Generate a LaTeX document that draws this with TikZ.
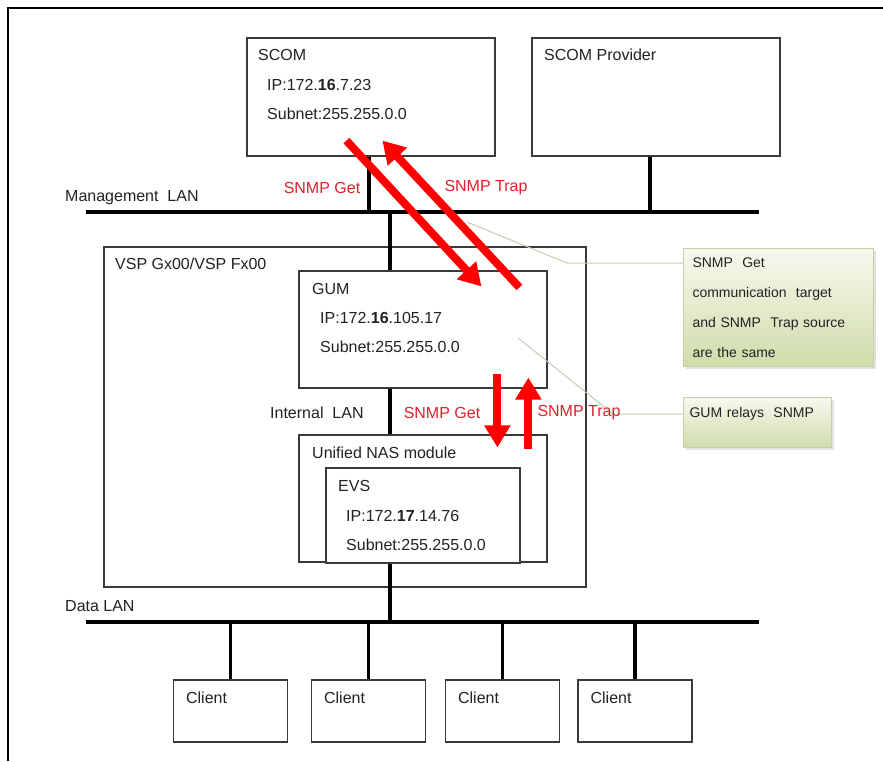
\documentclass[tikz,border=0pt]{standalone}
\usepackage{fontspec}
\setmainfont{Liberation Sans}
\usetikzlibrary{arrows.meta,calc,positioning,shadows}
\definecolor{snmpRed}{HTML}{FF0000}
\definecolor{snmpText}{HTML}{E0202C}
\definecolor{netInk}{HTML}{222222}
\definecolor{netBox}{HTML}{3A3A3A}
\definecolor{noteTop}{HTML}{F7F9EF}
\definecolor{noteBottom}{HTML}{D0DCAA}
\definecolor{noteEdge}{HTML}{C6D0A8}
\definecolor{notePtr}{HTML}{C8CCB2}

\begin{document}
\begin{tikzpicture}[x=1pt,y=-1pt,>=Latex,line cap=butt,line join=miter]
\path[fill=white] (0,0) rectangle (883,761); \useasboundingbox (0,0) rectangle (883,761);
\tikzset{box/.style={draw=netBox,fill=white,line width=1.2pt,inner sep=0pt},lan/.style={draw=black,line width=4pt},link/.style={draw=black,line width=3.5pt},lbl/.style={anchor=west,inner sep=0pt,text=netInk,font=\fontsize{16}{19}\selectfont},redlbl/.style={inner sep=0pt,text=snmpText,font=\fontsize{16}{19}\selectfont},flow/.style={draw=snmpRed,line width=8pt,-{Triangle[length=22pt,width=25pt]}},note/.style={draw=noteEdge,line width=1pt,top color=noteTop,bottom color=noteBottom,drop shadow={shadow xshift=2.5pt,shadow yshift=-2.5pt,fill=black!22},anchor=north west,inner sep=0pt,align=left,text=netInk,font=\fontsize{14}{29}\selectfont},pointer/.style={draw=notePtr,line width=1pt}}
\draw[black,line width=1.5pt] (8,761) -- (8,8) -- (883,8);
\node[box,minimum width=248,minimum height=118] (scom) at (371,97) {};
\node[box,minimum width=248,minimum height=118] (prov) at (656,97) {};
\node[box,minimum width=482,minimum height=340] (vsp) at (345,417) {};
\node[box,minimum width=248,minimum height=117] (gum) at (423,329.5) {};
\node[box,minimum width=248,minimum height=127] (nas) at (423,498.5) {};
\node[box,minimum width=194,minimum height=95] (evs) at (423,515.5) {};
\coordinate (mgmtL) at (86,212); \coordinate (mgmtR) at (759,212); \coordinate (dataL) at (86,622); \coordinate (dataR) at (759,622); \coordinate (trunk) at (390,0);
\draw[lan] (mgmtL) -- (mgmtR); \draw[lan] (dataL) -- (dataR);
\draw[link] ([xshift=-2pt]scom.south) -- ([xshift=-2pt]scom.south |- mgmtL); \draw[link] ([xshift=-6pt]prov.south) -- ([xshift=-6pt]prov.south |- mgmtL);
\draw[link] (trunk |- mgmtL) -- (trunk |- vsp.north); \draw[link] (trunk |- vsp.north) -- (trunk |- gum.north); \draw[link] (trunk |- gum.south) -- (trunk |- nas.north); \draw[link] (trunk |- evs.south) -- (trunk |- dataL);
\foreach \n/\x in {cl1/230.5,cl2/368.5,cl3/502.5,cl4/635}{\node[box,minimum width=114,minimum height=62] (\n) at (\x,711) {}; \node[lbl] (\n txt) at ([shift={(13,18)}]\n.north west) {Client}; \draw[link] (\n.north) -- (\n.north |- dataL);}
\node[lbl] (scomName) at (258,55) {SCOM}; \node[lbl] (scomIp) at (267,85) {IP:172.\textbf{16}.7.23}; \node[lbl] (scomMask) at (267,114) {Subnet:255.255.0.0};
\node[lbl] (provName) at (544,55) {SCOM Provider};
\node[lbl] (vspName) at (115,264) {VSP Gx00/VSP Fx00};
\node[lbl] (gumName) at (312,289) {GUM}; \node[lbl] (gumIp) at (320,318) {IP:172.\textbf{16}.105.17}; \node[lbl] (gumMask) at (320,347) {Subnet:255.255.0.0};
\node[lbl] (nasName) at (312,453) {Unified NAS module};
\node[lbl] (evsName) at (338,486) {EVS}; \node[lbl] (evsIp) at (346,516) {IP:172.\textbf{17}.14.76}; \node[lbl] (evsMask) at (346,545) {Subnet:255.255.0.0};
\node[lbl] (mgmtName) at (65,198) {Management\ \ LAN}; \node[lbl] (intName) at (270,413) {Internal\ \ LAN}; \node[lbl] (dataName) at (65,606) {Data LAN};
\node[note,minimum width=190,minimum height=118,text width=184] (note1) at (683,248) {\hspace*{6pt}SNMP\ \ Get\\[1pt]\hspace*{6pt}communication\ \ target\\[1pt]\hspace*{6pt}and SNMP\ \ Trap source\\[1pt]\hspace*{6pt}are the same};
\node[note,minimum width=148,minimum height=50,text width=148] (note2) at (683,397) {\hspace*{6pt}GUM\ relays\ \ SNMP\\[-8pt]\mbox{}};
\coordinate (ptr1) at (467,222); \coordinate (bend1) at (567,263); \coordinate (ptr2) at (518,338); \coordinate (bend2) at (613,414);
\draw[pointer] (ptr1) -- (bend1) -- (bend1 -| note1.west); \draw[pointer] (ptr2) -- (bend2) -- (bend2 -| note2.west);
\node[redlbl] (getTop) at (322,188) {SNMP Get}; \node[redlbl] (trapTop) at (486,188) {SNMP Trap};
\node[redlbl] (getMid) at (442,413) {SNMP Get}; \node[redlbl] (trapMid) at (579,413) {SNMP Trap};
\draw[flow] ([shift={(100,-16)}]scom.south west) -- ([shift={(183,16)}]gum.north west);
\draw[flow] ([shift={(221,17)}]gum.north west) -- ([shift={(136,-16)}]scom.south west);
\draw[flow] ([shift={(199,-15)}]gum.south west) -- ([shift={(199,13)}]nas.north west);
\draw[flow] ([shift={(230,15)}]nas.north west) -- ([shift={(230,-11)}]gum.south west);
\end{tikzpicture}
\end{document}
